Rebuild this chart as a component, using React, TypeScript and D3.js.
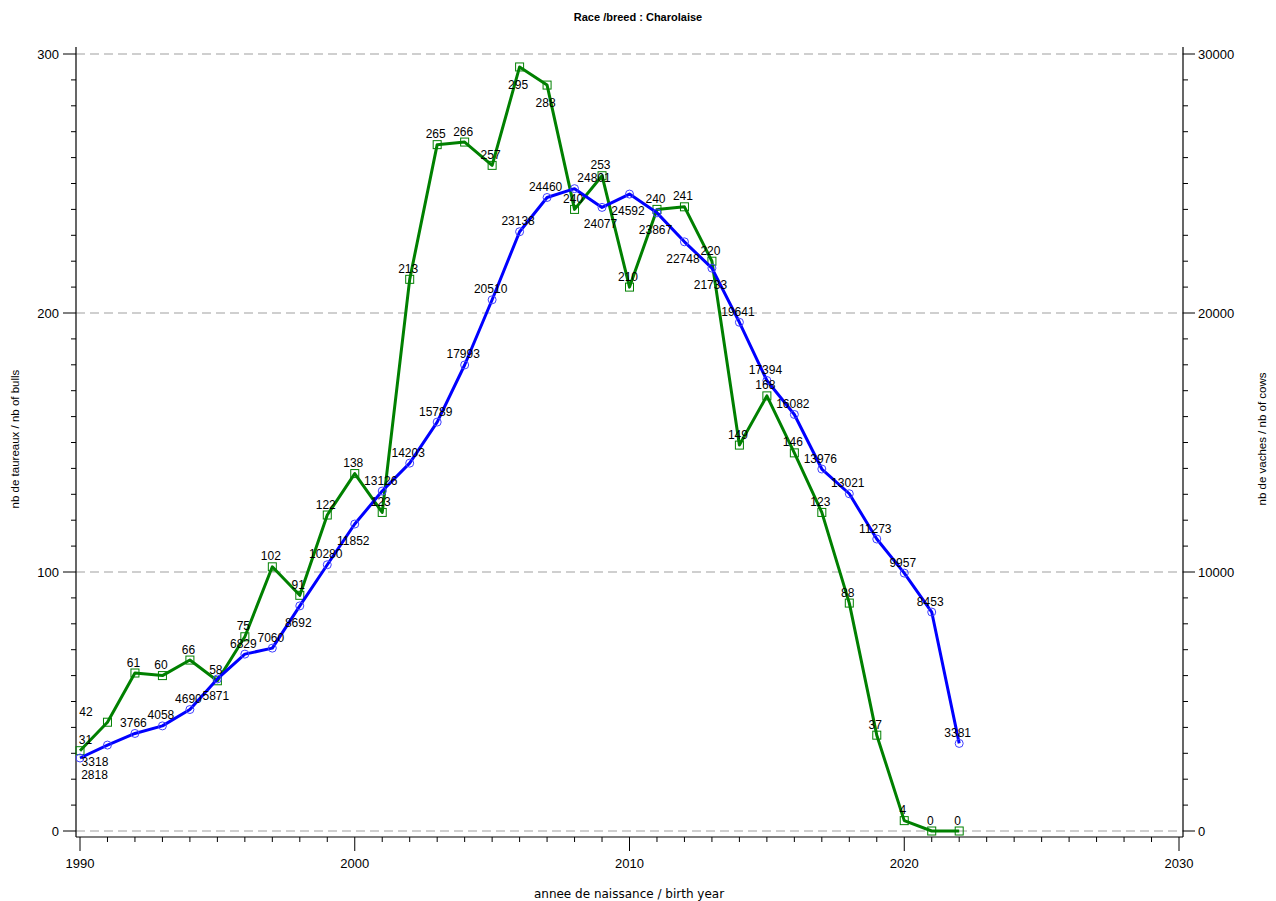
import React from "react";
import * as d3 from "d3";

const years = [1990,1991,1992,1993,1994,1995,1996,1997,1998,1999,2000,2001,2002,2003,2004,2005,2006,2007,2008,2009,2010,2011,2012,2013,2014,2015,2016,2017,2018,2019,2020,2021,2022];
const bulls = [31,42,61,60,66,58,75,102,91,122,138,123,213,265,266,257,295,288,240,253,210,240,241,220,149,168,146,123,88,37,4,0,0];
const cows = [2818,3318,3766,4058,4690,5871,6829,7060,8692,10280,11852,13126,14203,15789,17993,20510,23138,24460,24801,24077,24592,23867,22748,21733,19641,17394,16082,13976,13021,11273,9957,8453,3381];

const leftTicks = [0, 100, 200, 300];
const rightTicks = [0, 10000, 20000, 30000];
const xTicks = [1990, 2000, 2010, 2020, 2030];

// label placement (styling, not data)
const bullLabelBelow = [2006, 2007];
const cowLabelBelow = [1990, 1991, 1995, 1998, 2000, 2009, 2010, 2011, 2012, 2013];
const bullLabelShift: Record<number, number> = { 1990: 7, 1991: -20 };
const cowLabelShift: Record<number, number> = { 1990: 16, 1991: -11, 2008: 21 };

const W = 1276, H = 901;
const plotL = 76, plotR = 1183, plotT = 47, plotB = 837;
const FONT = "'Liberation Sans', Arial, Helvetica, sans-serif";

export default function App() {
  const x = d3.scaleLinear().domain([1990, 2030]).range([80, 1179]);
  const yB = d3.scaleLinear().domain([0, 300]).range([831, 54]);
  const yC = d3.scaleLinear().domain([0, 30000]).range([831, 54]);

  const bullPts = years.map((yr, i) => [x(yr), yB(bulls[i])] as [number, number]);
  const cowPts = years.map((yr, i) => [x(yr), yC(cows[i])] as [number, number]);
  const line = d3.line();

  const xMinor = d3.range(1990, 2031, 1);
  const yMinor = d3.range(0, 301, 10);
  const yMinorAll = yMinor.filter((v) => yB(v) >= plotT);

  return (
    <svg width={W} height={H} style={{ position: "absolute", left: 0, top: 0, background: "#fff" }} fontFamily={FONT}>
      <rect x={0} y={0} width={W} height={H} fill="#fff" />
      {/* title */}
      <text x={638} y={21} textAnchor="middle" fontSize={11} fontWeight="bold" fill="#000">Race /breed : Charolaise</text>

      {/* grid */}
      {leftTicks.map((t) => (
        <line key={"g" + t} x1={plotL} x2={plotR} y1={yB(t)} y2={yB(t)} stroke="#a0a0a0" strokeWidth={1.2} strokeDasharray="9,5" />
      ))}

      {/* axes lines */}
      <line x1={plotL} x2={plotL} y1={plotT} y2={plotB} stroke="#000" strokeWidth={1.2} />
      <line x1={plotR} x2={plotR} y1={plotT} y2={plotB} stroke="#000" strokeWidth={1.2} />
      <line x1={plotL} x2={plotR} y1={plotB} y2={plotB} stroke="#000" strokeWidth={1.2} />

      {/* left ticks */}
      {yMinorAll.map((v) => (
        <line key={"lm" + v} x1={plotL - (v % 100 === 0 ? 13 : 5)} x2={plotL} y1={yB(v)} y2={yB(v)} stroke="#000" strokeWidth={1} />
      ))}
      {leftTicks.map((t) => (
        <text key={"lt" + t} x={plotL - 17} y={yB(t) + 5} textAnchor="end" fontSize={13} fill="#000">{t}</text>
      ))}
      {/* right ticks */}
      {d3.range(0, 30001, 1000).map((v) => (
        <line key={"rm" + v} x1={plotR} x2={plotR + (v % 10000 === 0 ? 12 : 5)} y1={yC(v)} y2={yC(v)} stroke="#000" strokeWidth={1} />
      ))}
      {rightTicks.map((t) => (
        <text key={"rt" + t} x={plotR + 15} y={yC(t) + 5} textAnchor="start" fontSize={13} fill="#000">{t}</text>
      ))}
      {/* bottom ticks */}
      {xMinor.map((v) => (
        <line key={"xm" + v} x1={x(v)} x2={x(v)} y1={plotB} y2={plotB + (v % 10 === 0 ? 14 : 5)} stroke="#000" strokeWidth={1} />
      ))}
      {xTicks.map((t) => (
        <text key={"xt" + t} x={x(t)} y={868} textAnchor="middle" fontSize={13} fill="#000">{t}</text>
      ))}

      {/* axis titles */}
      <text x={629} y={898} textAnchor="middle" fontSize={12} fontFamily="'DejaVu Sans', sans-serif" fill="#000">annee de naissance / birth year</text>
      <text transform={`translate(19,${439}) rotate(-90)`} textAnchor="middle" fontSize={11.5} fill="#000">nb de taureaux / nb of bulls</text>
      <text transform={`translate(1266,${439}) rotate(-90)`} textAnchor="middle" fontSize={11.5} fill="#000">nb de vaches / nb of cows</text>

      {/* bulls series */}
      <path d={line(bullPts) || ""} fill="none" stroke="#008000" strokeWidth={3} strokeLinejoin="round" />
      {bullPts.map(([px, py], i) => (
        <rect key={"bs" + i} x={px - 4} y={py - 4} width={8} height={8} fill="none" stroke="#008000" strokeWidth={1} />
      ))}

      {/* cows series */}
      <path d={line(cowPts) || ""} fill="none" stroke="#0000ff" strokeWidth={3} strokeLinejoin="round" />
      {cowPts.map(([px, py], i) => (
        <circle key={"cc" + i} cx={px} cy={py} r={4} fill="none" stroke="#4040ff" strokeWidth={1} />
      ))}

      {/* labels */}
      {bullPts.map(([px, py], i) => {
        const yr = years[i];
        const below = bullLabelBelow.includes(yr);
        const dx = bullLabelShift[yr] || 0;
        return (
          <text key={"bl" + i} x={px - 1.5 + dx} y={below ? py + 22 : py - 6.5} textAnchor="middle" fontSize={12} fill="#000">{bulls[i]}</text>
        );
      })}
      {cowPts.map(([px, py], i) => {
        const yr = years[i];
        const below = cowLabelBelow.includes(yr);
        const dx = cowLabelShift[yr] || 0;
        return (
          <text key={"cl" + i} x={px - 1.5 + dx} y={below ? py + 21 : py - 6.5} textAnchor="middle" fontSize={12} fill="#000">{cows[i]}</text>
        );
      })}
    </svg>
  );
}
